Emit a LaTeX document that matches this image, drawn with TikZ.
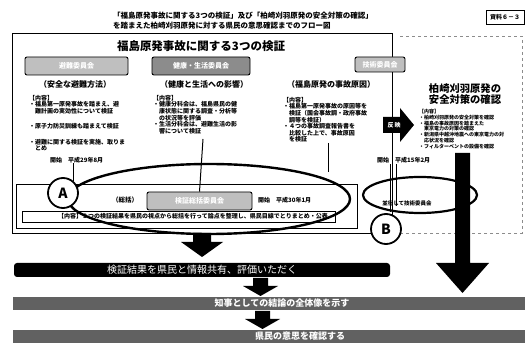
\documentclass[tikz,border=0pt]{standalone}
\usepackage{fontspec}
\setmainfont{Noto Sans CJK JP}
\begin{document}
\begin{tikzpicture}[x=1pt,y=-1pt,
  ct/.style={anchor=north west,align=left,inner sep=0pt,font=\bfseries\fontsize{6}{6.6}\selectfont},
  cts/.style={anchor=north west,align=left,inner sep=0pt,font=\bfseries\fontsize{5}{5.8}\selectfont},
  sub/.style={inner sep=0pt,font=\bfseries\fontsize{8}{9}\selectfont},
  pbox/.style={draw=black,line width=0.9pt,rounded corners=2pt,fill=black!25,text=white,font=\bfseries\fontsize{7}{8}\selectfont,inner sep=0pt},
  band/.style={fill=black!62,text=white,font=\bfseries\fontsize{9}{10}\selectfont,inner sep=0pt},
  lbl/.style={draw=black,line width=1.8pt,fill=white,circle,minimum size=30pt,inner sep=0pt,font=\bfseries\fontsize{14}{14}\selectfont},
  conn/.style={line width=1pt}]
\useasboundingbox (0,0) rectangle (530,352);
\fill[white] (0,0) rectangle (530,352);

% title
\node[anchor=west,inner sep=0pt,font=\bfseries\fontsize{7.5}{8}\selectfont] (t1) at (113,16) {「福島原発事故に関する3つの検証」及び「柏崎刈羽原発の安全対策の確認」};
\node[anchor=west,inner sep=0pt,font=\bfseries\fontsize{7.5}{8}\selectfont] (t2) at (113,26) {を踏まえた柏崎刈羽原発に対する県民の意思確認までのフロー図};
\node[draw,line width=0.8pt,minimum width=38pt,minimum height=14pt,inner sep=0pt,font=\bfseries\fontsize{6}{6}\selectfont] (doc) at (505,17) {資料６－３};

% frames
\draw[line width=0.9pt] (12,33) rectangle (392,233);
\draw[black!45,dashed,line width=0.5pt] (400,36) -- (522,36) -- (522,233) -- (392,233);
\draw[line width=0.6pt] (16,184) rectangle (357,228);
\node[draw,line width=0.6pt,minimum width=313pt,minimum height=11pt,inner sep=0pt] (inbox) at (178.5,216.5) {};

\node[inner sep=0pt,font=\bfseries\fontsize{11.5}{12}\selectfont] (head) at (201,46) {福島原発事故に関する3つの検証};

% column boxes
\node[pbox,minimum width=103pt,minimum height=18pt] (b1) at (76.5,66) {避難委員会};
\node[pbox,minimum width=98pt,minimum height=18pt,fill=black!45] (b2) at (201,66) {健康・生活委員会};
\node[pbox,minimum width=50pt,minimum height=15pt] (b3) at (380,64.5) {技術委員会};

\node[sub] (s1) at (75,84) {（安全な避難方法）};
\node[sub] (s2) at (204,84) {（健康と生活への影響）};
\node[sub] (s3) at (331,84) {（福島原発の事故原因）};

% column 1
\node[ct] (c1a) at (29,95) {【内容】\\・福島第一原発事故を踏まえ、避\\　難計画の実効性について検証};
\node[ct] (c1b) at (29,123) {・原子力防災訓練も踏まえて検証};
\node[ct] (c1c) at (29,139) {・避難に関する検証を実施、取りま\\　とめ};
\node[ct] (c1d) at (50,157) {開始　平成29年8月};

% column 2
\node[ct] (c2a) at (153,95) {【内容】\\・健康分科会は、福島県民の健\\　康状態に関する調査・分析等\\　の状況等を評価\\・生活分科会は、避難生活の影\\　響について検証};

% column 3
\node[ct] (c3a) at (283,97) {【内容】\\・福島第一原発事故の原因等を\\　検証（国会事故調・政府事故\\　調等を検証）\\・４つの事故調査報告書を\\　比較した上で、事故原因\\　を検証};

% column 4
\node[inner sep=0pt,align=center,font=\bfseries\fontsize{10.3}{11}\selectfont] (h4) at (465,94) {柏崎刈羽原発の\\安全対策の確認};
\node[cts] (c4a) at (419,109) {【内容】\\・柏崎刈羽原発の安全対策を確認\\・福島の事故原因を踏まえた\\　東京電力の対策の確認\\・新潟県中越沖地震への東京電力の対\\　応状況を確認\\・フィルターベントの設備を確認};
\node[ct] (c4d) at (377,157) {開始　平成15年2月};

% reflect arrow
\fill (383,117) -- (400,117) -- (400,108) -- (414,125) -- (400,142) -- (400,133) -- (383,133) -- cycle;
\node[inner sep=0pt,text=white,font=\bfseries\fontsize{6}{6}\selectfont] (refl) at (394,125) {反\,映};

% summary row
\node[inner sep=0pt,font=\bfseries\fontsize{6.5}{7}\selectfont] (sum) at (125,200) {（総括）};
\node[pbox,minimum width=105pt,minimum height=18pt] (sbox) at (199.5,201) {検証総括委員会};
\node[ct,anchor=west] (sdate) at (258,200) {開始　平成30年1月};
\node[ct,anchor=west] (scont) at (58,216.5) {【内容】３つの検証結果を県民の視点から総括を行って論点を整理し、県民目線でとりまとめ・公表};

% connectors
\draw[conn] (c1d.south -| 73,0) -- (73,181);
\draw[conn] (203,139) -- (sbox.north);
\draw[conn] (328,143) -- (328,172);
\draw[conn] (390,164) -- (390,212);
\draw[conn] (396,164) -- (396,206);

% ellipses
\draw[line width=2.4pt] (209,199) ellipse [x radius=141, y radius=35];
\draw[line width=2.2pt] (420,195) ellipse [x radius=57, y radius=18];
\node[inner sep=0pt,font=\bfseries\fontsize{5.5}{6}\selectfont] (btext) at (407,203) {並行して技術委員会};
\node[lbl] (la) at (63,193) {A};
\node[lbl] (lb) at (386,229) {B};

% down arrow 1
\fill (193,233) -- (211,233) -- (211,242) -- (223,242) -- (202,257) -- (181,242) -- (193,242) -- cycle;

% right big arrow
\fill (455,153) -- (470,153) -- (470,263) -- (489,263) -- (462.5,293) -- (436,263) -- (455,263) -- cycle;

% band 1
\node[fill=black,rounded corners=3pt,minimum width=376pt,minimum height=14pt,inner sep=0pt,text=white,font=\fontsize{10}{10}\selectfont] (band1) at (202,270) {検証結果を県民と情報共有、評価いただく};

% arrow 2
\fill (253,278) -- (268,278) -- (268,286) -- (278,286) -- (260.5,296) -- (243,286) -- (253,286) -- cycle;

% band 2
\node[band,minimum width=512pt,minimum height=13pt] (band2) at (269,303.5) {};
\node[inner sep=0pt,text=white,font=\bfseries\fontsize{9}{10}\selectfont] (band2t) at (282,303.5) {知事としての結論の全体像を示す};

% arrow 3
\fill (255,311) -- (270,311) -- (270,319) -- (280,319) -- (262.5,329) -- (245,319) -- (255,319) -- cycle;

% band 3
\node[band,minimum width=512pt,minimum height=13pt] (band3) at (269,336.5) {};
\node[inner sep=0pt,text=white,font=\bfseries\fontsize{9}{10}\selectfont] (band3t) at (300,336.5) {県民の意思を確認する};
\end{tikzpicture}
\end{document}
